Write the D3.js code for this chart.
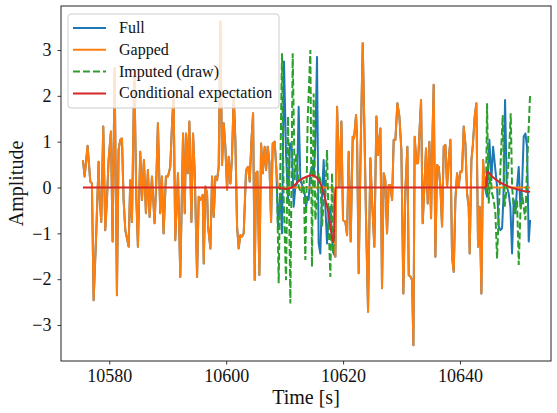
<!DOCTYPE html>
<html><head><meta charset="utf-8">
<script src="https://cdn.jsdelivr.net/npm/d3@7"></script>
<style>body{margin:0;background:#fff}</style>
</head><body>
<svg id="c" width="557" height="413"></svg>
<script>
// ---------------- data ----------------
const xTicks = [10580, 10600, 10620, 10640];
const yTicks = [-3, -2, -1, 0, 1, 2, 3];
const seriesNames = ["Full", "Gapped", "Imputed (draw)", "Conditional expectation"];
const gaps = [[10608.7, 10618.6], [10644.4, 10652.1]];

// "Gapped" series (zeros inside the gaps)
const gappedT = [
10575.49,10575.78,10576.29,10576.75,10577.03,10577.32,10577.77,10578.17,10578.34,10578.63,
10578.97,10579.31,10579.60,10579.88,10580.28,10580.57,10580.91,10581.31,10581.59,10581.88,
10582.17,10582.45,10582.74,10583.31,10583.59,10583.88,10584.28,10584.62,10584.90,10585.30,
10585.59,10585.93,10586.27,10586.61,10586.90,10587.30,10587.75,10588.04,10588.32,10588.72,
10589.01,10589.29,10589.69,10590.04,10590.43,10590.72,10591.00,10591.29,10591.75,10592.15,
10592.62,10592.91,10593.13,10593.42,10593.70,10594.05,10594.33,10594.62,10595.02,10595.30,
10595.59,10595.99,10596.16,10596.44,10596.73,10596.90,10597.30,10597.58,10597.87,10598.15,
10598.44,10598.72,10599.01,10599.29,10599.58,10599.86,10600.15,10600.43,10600.72,10601.00,
10601.29,10601.57,10601.86,10602.14,10602.43,10602.72,10603.00,10603.40,10603.74,10604.03,
10604.31,10604.60,10604.88,10605.11,10605.34,10605.68,10605.97,10606.25,10606.59,10606.82,
10607.11,10607.39,10607.68,10607.96,10608.30,10608.59,
10608.87,10618.39,
10618.68,10618.97,10619.36,10619.71,10619.99,10620.39,10620.68,10620.96,10621.30,10621.65,
10621.87,10622.22,10622.39,10622.67,10623.01,10623.36,10623.64,10623.93,10624.27,10624.67,
10624.95,10625.35,10625.70,10625.98,10626.38,10626.66,10626.95,10627.23,10627.52,10627.80,
10628.09,10628.38,10628.66,10628.95,10629.29,10629.63,10629.97,10630.31,10630.66,10631.00,
10631.23,10631.57,10631.80,10632.03,10632.25,10632.54,10632.82,10633.11,10633.34,10633.62,
10633.91,10634.19,10634.48,10634.76,10635.05,10635.33,10635.50,10635.79,10636.07,10636.36,
10636.64,
10636.93,10637.22,10637.50,10637.79,10638.07,10638.36,10638.64,10638.93,10639.21,10639.50,
10639.78,10640.07,10640.35,10640.64,10640.92,10641.21,10641.49,10641.66,10641.95,10642.18,
10642.52,10642.80,10643.09,10643.37,10643.66,10643.95,10644.23,
10644.46,10652.0];
const gappedV = [
0.60,0.24,0.91,0.13,0.09,-2.46,-1.00,0.56,-0.20,-0.75,
1.33,-0.93,-0.27,0.60,1.22,-1.18,2.60,-2.35,0.82,1.04,
1.07,-0.27,-0.93,-1.29,0.16,-0.75,2.56,-0.20,-1.29,0.78,
-0.27,0.60,-0.56,0.38,-0.64,0.24,-0.78,0.13,1.40,-0.56,
0.24,-1.00,0.24,0.24,0.45,1.33,2.05,-1.15,0.31,-1.95,
1.18,-0.56,1.18,0.31,1.44,-0.75,1.18,0.31,-1.95,-0.20,
-0.27,-0.16,-1.66,0.02,-0.13,-0.85,-1.33,0.24,-0.64,0.24,
0.16,0.45,3.62,0.49,1.40,0.89,-0.05,0.67,0.09,0.67,
2.02,1.04,-0.85,-1.33,-1.04,-1.07,-1.00,0.38,0.45,0.13,
1.00,1.62,-2.02,0.31,0.35,-1.91,0.96,0.31,0.89,0.38,
0.89,0.56,-0.75,0.96,1.00,0.38,
0,0,
-1.51,1.76,0.02,1.44,-0.71,-0.75,-1.04,0.78,-1.18,1.11,
1.07,1.58,1.04,-1.87,0.89,3.15,1.33,-0.71,-2.71,0.64,
-0.27,-1.29,1.55,0.71,1.29,-2.20,0.31,0.16,-1.00,0.05,
0.05,-0.27,1.04,1.04,1.84,1.55,0.82,-2.31,-0.05,0.89,
-1.91,-1.95,-2.02,-3.44,1.11,0.53,0.53,1.33,1.91,-0.78,
0.02,0.85,-0.35,1.00,-0.67,1.33,2.24,-1.51,0.49,0.45,
0.02,
-0.85,0.89,0.93,0.02,0.60,1.04,-1.51,-1.84,-0.27,0.31,
0.02,0.35,0.35,1.33,0.96,-0.13,-0.42,-1.44,0.60,0.89,
1.55,1.84,-1.29,-0.42,-2.31,0.60,0.02,
0,0];

// "Full" series values inside the gaps (outside the gaps it equals "Gapped")
const fullGapT = [
10608.87,10609.27,10609.55,10609.89,10610.24,10610.58,10610.92,10611.26,10611.55,10611.83,
10612.12,10612.40,10612.69,10613.09,10613.43,10613.66,10613.89,10614.11,10614.40,10614.68,
10614.97,10615.25,10615.54,10615.82,10616.11,10616.40,10616.68,10616.97,10617.25,10617.54,
10617.82,10618.11,10618.39,
10644.63,10645.03,10645.37,10645.66,10646.06,10646.34,10646.63,10646.91,10647.20,10647.42,
10647.71,10648.00,10648.34,10648.62,10648.91,10649.19,10649.48,10649.76,10650.05,10650.33,
10650.62,10650.90,10651.19,10651.47,10651.76,10652.0];
const fullGapV = [
-0.85,-0.13,-1.00,2.75,0.75,-0.27,0.96,0.82,-0.42,0.02,
0.09,1.76,0.16,0.02,-0.13,-0.42,-0.20,-0.27,0.31,0.45,
0.24,0.96,2.85,-1.22,-1.44,-0.13,0.60,-0.42,-1.22,-0.64,
-0.42,-1.15,-1.44,
-0.20,1.04,0.16,0.89,0.38,0.02,-0.85,-0.93,-0.89,-0.27,
1.91,0.02,-0.13,-0.42,-1.44,-0.27,-0.56,0.02,0.45,-0.42,
0.02,1.11,1.18,0.89,-1.18,-0.71];

// "Imputed (draw)" series (null separates the two gaps)
const imputedT = [
10608.70,10608.98,10609.55,10609.84,10610.24,10610.58,10610.98,10611.38,10611.72,10612.00,
10612.40,10612.86,10613.26,10613.54,10613.94,10614.40,10614.68,10614.97,10615.25,10615.54,
10615.82,10616.11,10616.40,10616.68,10616.97,10617.25,10617.54,10617.82,10618.11,10618.28,
10618.56,
null,
10644.46,10644.63,10644.91,10645.20,10645.49,10645.77,10646.06,10646.34,10646.63,10646.97,
10647.31,10647.65,10648.00,10648.34,10648.68,10648.91,10649.19,10649.48,10649.76,10650.05,
10650.33,10650.62,10650.90,10651.19,10651.47,10651.76,10652.0];
const imputedV = [
0.02,-2.09,2.93,-0.27,-2.02,1.55,-2.53,2.93,0.16,0.75,
0.02,-0.13,0.16,-1.58,1.47,3.00,-1.73,2.05,-0.71,-0.27,
0.31,0.16,-0.85,-0.27,-0.20,0.82,-0.85,-1.95,0.31,-1.44,
-0.93,
null,
-0.13,1.84,-0.35,0.31,-0.13,-0.27,-0.56,-1.55,-0.56,0.60,
1.58,-0.42,0.02,0.60,1.62,0.02,-0.42,-0.56,-0.27,-1.69,
-0.56,-0.13,-0.42,-0.71,0.45,1.33,2.05];

// "Conditional expectation"
const condT = [10575.49,10608.70,10610.12,10611.26,10612.40,10613.83,10614.68,10615.82,10616.40,
  10616.97,10617.40,10617.82,10618.39,10618.68,10644.23,10644.46,10644.63,10645.49,10646.63,
  10648.34,10650.05,10651.00,10652.0];
const condV = [0,0,-0.03,0.0,0.14,0.24,0.27,0.16,0.0,
  -0.27,-0.50,-0.85,-1.20,0,0,0,0.35,0.24,0.13,
  0.02,-0.05,-0.08,-0.09];

// ---------------- drawing ----------------
const colors = ["#1f77b4", "#ff7f0e", "#2ca02c", "#d62728"];
const pL = 61, pR = 551, pT = 6, pB = 361;
const x = d3.scaleLinear().domain([10571.74, 10655.57]).range([pL, pR]);
const y = d3.scaleLinear().domain([-3.785, 3.96]).range([pB, pT]);
const svg = d3.select("#c");
const font = "'Liberation Serif','Times New Roman',serif";

svg.append("defs").append("clipPath").attr("id", "clip")
  .append("rect").attr("x", pL).attr("y", pT).attr("width", pR - pL).attr("height", pB - pT);

const inGap = t => gaps.some(g => t > g[0] && t < g[1]);
const zip = (T, V) => T.map((t, i) => ({t, v: V[i]}));

const gapped = zip(gappedT, gappedV);
const full = gapped.filter(d => !inGap(d.t)).concat(zip(fullGapT, fullGapV)).sort((a, b) => a.t - b.t);
const imputed = zip(imputedT, imputedV);
const cond = zip(condT, condV);

const line = d3.line().defined(d => d.t !== null && d.v !== null).x(d => x(d.t)).y(d => y(d.v));
const smooth = d3.line().x(d => x(d.t)).y(d => y(d.v)).curve(d3.curveMonotoneX);

const g = svg.append("g").attr("clip-path", "url(#clip)");
g.append("path").datum(full).attr("d", line).attr("fill", "none").attr("stroke", colors[0]).attr("stroke-width", 2).attr("stroke-linejoin", "round");
g.append("path").datum(gapped).attr("d", line).attr("fill", "none").attr("stroke", colors[1]).attr("stroke-width", 2).attr("stroke-linejoin", "round");
g.append("path").datum(imputed).attr("d", line).attr("fill", "none").attr("stroke", colors[2]).attr("stroke-width", 2).attr("stroke-dasharray", "7,3");
g.append("path").datum(cond).attr("d", smooth).attr("fill", "none").attr("stroke", colors[3]).attr("stroke-width", 2);

// axes
const xa = svg.append("g").attr("transform", `translate(0,${pB})`)
  .call(d3.axisBottom(x).tickValues(xTicks).tickFormat(d3.format("d")).tickSize(3.5).tickPadding(5));
const ya = svg.append("g").attr("transform", `translate(${pL},0)`)
  .call(d3.axisLeft(y).tickValues(yTicks).tickFormat(d3.format("d")).tickSize(3.5).tickPadding(6));
[xa, ya].forEach(a => {
  a.select(".domain").remove();
  a.selectAll("line").attr("stroke", "#222").attr("stroke-width", 0.9);
  a.selectAll("text").attr("font-family", font).attr("font-size", 18).attr("fill", "#111");
});

// frame
svg.append("rect").attr("x", pL).attr("y", pT).attr("width", pR - pL).attr("height", pB - pT)
  .attr("fill", "none").attr("stroke", "#222").attr("stroke-width", 1);

// labels
svg.append("text").attr("x", (pL + pR) / 2).attr("y", 404).attr("text-anchor", "middle")
  .attr("font-family", font).attr("font-size", 20).attr("fill", "#111").text("Time [s]");
svg.append("text").attr("transform", `translate(23,${(pT + pB) / 2}) rotate(-90)`).attr("text-anchor", "middle")
  .attr("font-family", font).attr("font-size", 20).attr("fill", "#111").text("Amplitude");

// legend
const lg = svg.append("g");
lg.append("rect").attr("x", 68).attr("y", 14).attr("width", 211).attr("height", 94).attr("rx", 3)
  .attr("fill", "#fff").attr("fill-opacity", 0.8).attr("stroke", "#ccc").attr("stroke-width", 1);
seriesNames.forEach((name, i) => {
  const yy = 28 + i * 21.8;
  lg.append("line").attr("x1", 73).attr("x2", 106).attr("y1", yy).attr("y2", yy)
    .attr("stroke", colors[i]).attr("stroke-width", 2)
    .attr("stroke-dasharray", i === 2 ? "7,3" : null);
  lg.append("text").attr("x", 119).attr("y", yy + 5).attr("font-family", font).attr("font-size", 16)
    .attr("fill", "#111").text(name);
});
</script>
</body></html>
